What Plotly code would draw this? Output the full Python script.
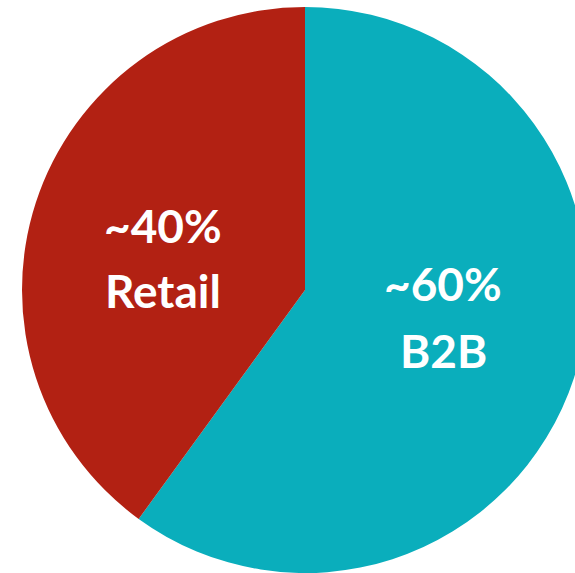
import plotly.graph_objects as go

labels = ["B2B", "Retail"]
values = [60, 40]
pct_text = ["~60%", "~40%"]
colors = ["#0AAEBC", "#B22113"]

W, H = 600, 573
ML, MR, MT, MB = 22, 12, 7, 0
PW, PH = W - ML - MR, H - MT - MB

def px(x):
    return (x - ML) / PW

def py(y):
    return 1 - (y - MT) / PH

fig = go.Figure(go.Pie(
    labels=labels, values=values, sort=False, direction="clockwise", rotation=0,
    marker=dict(colors=colors, line=dict(width=0)),
    textinfo="none", hoverinfo="label+percent", showlegend=False,
))

# label positions (pixel centres of each line)
label_pos = {"B2B": (443, 284, 350), "Retail": (163, 226, 290)}
fnt = dict(family="Lato, 'Open Sans', sans-serif", size=46, color="white")
for lab, pt in zip(labels, pct_text):
    x, y1, y2 = label_pos[lab]
    fig.add_annotation(x=px(x), y=py(y1), xref="paper", yref="paper", text=f"<b>{pt}</b>",
                       showarrow=False, font=fnt, xanchor="center", yanchor="middle")
    fig.add_annotation(x=px(x), y=py(y2), xref="paper", yref="paper", text=f"<b>{lab}</b>",
                       showarrow=False, font=fnt, xanchor="center", yanchor="middle")

fig.update_layout(
    width=W, height=H, margin=dict(l=ML, r=MR, t=MT, b=MB, pad=0),
    paper_bgcolor="white", plot_bgcolor="white",
)

fig.write_html("out.html", post_script=(
    "document.body.style.margin='0';document.body.style.overflow='hidden';"
    "document.documentElement.style.overflow='hidden';"))
